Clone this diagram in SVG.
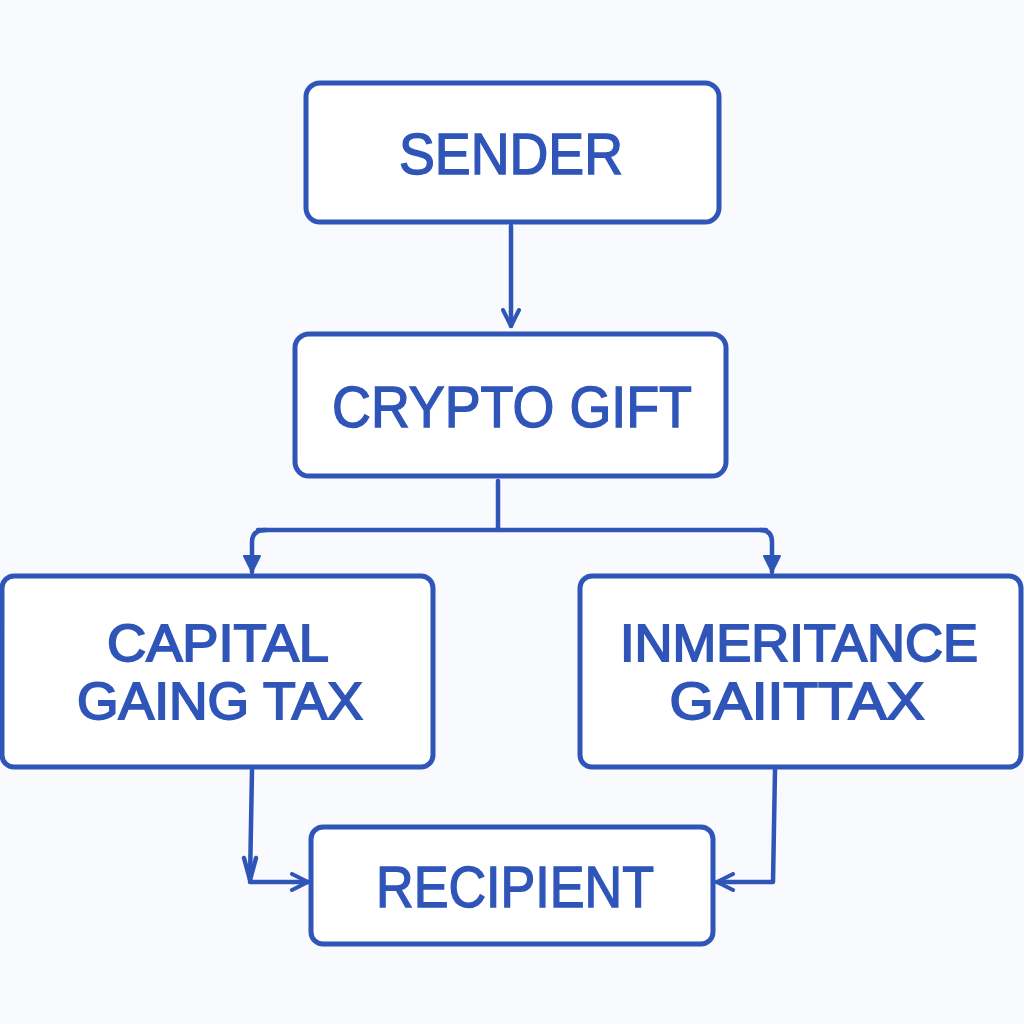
<svg xmlns="http://www.w3.org/2000/svg" width="1024" height="1024" viewBox="0 0 1024 1024">
<style>
.box{fill:#ffffff;stroke:#2f55b8;stroke-width:5}
.lbl{font-family:"Liberation Sans",Arial,sans-serif;font-size:58px;fill:#2f55b8;stroke:#2f55b8;stroke-width:1.4;text-anchor:middle}
.lbl2{font-size:51px;stroke-width:1.8}
.con{fill:none;stroke:#2f55b8;stroke-width:4.5;stroke-linejoin:round;stroke-linecap:round}
</style>
<defs>
<marker id="open" viewBox="0 0 20 20" refX="18" refY="10" markerWidth="20" markerHeight="20" markerUnits="userSpaceOnUse" orient="auto">
<path d="M2,2 L18,10 L2,18" fill="none" stroke="#2f55b8" stroke-width="4" stroke-linecap="round" stroke-linejoin="round"/>
</marker>
<marker id="fill" viewBox="0 0 20 20" refX="18" refY="10" markerWidth="20" markerHeight="20" markerUnits="userSpaceOnUse" orient="auto">
<path d="M2,2 L18,10 L2,18 Z" fill="#2f55b8" stroke="#2f55b8" stroke-width="2" stroke-linejoin="round"/>
</marker>
</defs>
<rect width="1024" height="1024" fill="#f9fafd"/>
<g id="connectors">
<path class="con" d="M511,226 L511,326" marker-end="url(#open)"/>
<path class="con" d="M498,481 L498,530"/>
<path class="con" d="M258,530 L766,530"/>
<path class="con" d="M266,530 Q252,530 252,542 L252,572" marker-end="url(#fill)"/>
<path class="con" d="M760,530 Q772,530 772,542 L772,572" marker-end="url(#fill)"/>
<path class="con" d="M252,770 L250,880" />
<path class="con" d="M244,858 L250,880 L256,858"/>
<path class="con" d="M250,882 L308,882" marker-end="url(#open)"/>
<path class="con" d="M775,770 L773,882 L717,882" marker-end="url(#open)"/>
</g>
<g id="sender">
<rect class="box" x="306" y="83" width="413" height="139" rx="14"/>
<text class="lbl" x="511" y="174" textLength="224" lengthAdjust="spacingAndGlyphs">SENDER</text>
</g>
<g id="crypto-gift">
<rect class="box" x="295" y="334" width="431" height="142" rx="14"/>
<text class="lbl" x="512" y="427" textLength="360" lengthAdjust="spacingAndGlyphs">CRYPTO GIFT</text>
</g>
<g id="capital-gains-tax">
<rect class="box" x="2" y="576" width="431" height="191" rx="12"/>
<text class="lbl lbl2" x="218" y="661" textLength="222" lengthAdjust="spacingAndGlyphs">CAPITAL</text>
<text class="lbl lbl2" x="220" y="719" textLength="286" lengthAdjust="spacingAndGlyphs">GAING TAX</text>
</g>
<g id="inheritance-gift-tax">
<rect class="box" x="580" y="576" width="441" height="191" rx="12"/>
<text class="lbl lbl2" x="799" y="661" textLength="358" lengthAdjust="spacingAndGlyphs">INMERITANCE</text>
<text class="lbl lbl2" x="797" y="719" textLength="255" lengthAdjust="spacingAndGlyphs">GAIITTAX</text>
</g>
<g id="recipient">
<rect class="box" x="311" y="827" width="402" height="117" rx="12"/>
<text class="lbl" x="515" y="907" textLength="278" lengthAdjust="spacingAndGlyphs">RECIPIENT</text>
</g>
</svg>
